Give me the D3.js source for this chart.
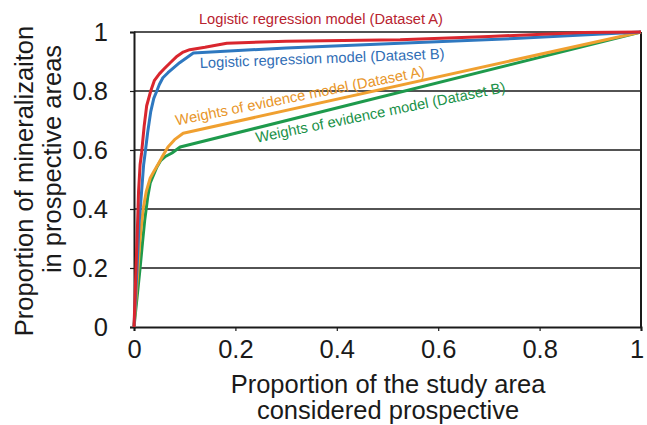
<!DOCTYPE html>
<html><head><meta charset="utf-8">
<script src="https://cdn.jsdelivr.net/npm/d3@7"></script>
<style>
html,body{margin:0;padding:0;background:#fff;}
svg text{font-family:"Liberation Sans",Arial,sans-serif;}
</style>
</head><body>
<svg id="chart" width="647" height="425"></svg>
<script>
// Data (x = proportion of study area, y = proportion of mineralization)
const lrA = [[0,0],[0.004,0.2],[0.007,0.35],[0.009,0.46],[0.012,0.55],[0.015,0.59],[0.02,0.68],[0.025,0.75],[0.033,0.80],[0.04,0.835],[0.05,0.858],[0.06,0.876],[0.071,0.895],[0.085,0.918],[0.097,0.932],[0.11,0.94],[0.14,0.948],[0.183,0.962],[0.3,0.969],[0.525,0.974],[0.7,0.985],[0.886,0.998],[1,1]];
const lrB = [[0,0],[0.006,0.2],[0.01,0.35],[0.015,0.46],[0.019,0.55],[0.022,0.59],[0.027,0.66],[0.033,0.73],[0.039,0.775],[0.045,0.80],[0.05,0.822],[0.057,0.845],[0.067,0.862],[0.09,0.896],[0.117,0.929],[0.3,0.946],[0.525,0.962],[0.75,0.978],[1,1]];
const woeA = [[0,0],[0.006,0.15],[0.012,0.3],[0.018,0.4],[0.024,0.458],[0.032,0.505],[0.04,0.53],[0.047,0.55],[0.055,0.575],[0.067,0.61],[0.08,0.635],[0.097,0.657],[1,1]];
const woeB = [[0,0],[0.006,0.1],[0.012,0.2],[0.017,0.29],[0.021,0.36],[0.024,0.4],[0.027,0.44],[0.032,0.488],[0.045,0.542],[0.053,0.565],[0.061,0.577],[0.075,0.59],[0.091,0.61],[1,1]];
const xTicks = [0,0.2,0.4,0.6,0.8,1];
const yTicks = [0,0.2,0.4,0.6,0.8,1];
const xTitle = ["Proportion of the study area","considered prospective"];
const yTitle = ["Proportion of mineralizaiton","in prospective areas"];
const seriesNames = ["Weights of evidence model (Dataset B)","Weights of evidence model (Dataset A)","Logistic regression model (Dataset B)","Logistic regression model (Dataset A)"];
const seriesColors = ["#1e9a4c","#f0a030","#2e78c0","#d9262e"];
const labelColors = ["#1a9148","#e8962a","#2f6db5","#b8232f"];

const svg = d3.select("#chart");
const x = d3.scaleLinear().domain([0,1]).range([134,641]);
const y = d3.scaleLinear().domain([0,1]).range([327,32]);

// gridlines
svg.append("g").selectAll("line").data(yTicks.filter(d=>d>0)).join("line")
  .attr("x1",x(0)).attr("x2",x(1)).attr("y1",d=>y(d)).attr("y2",d=>y(d))
  .attr("stroke","#1a1a1a").attr("stroke-width",1.6);

// axes
const xAxis = d3.axisBottom(x).tickValues(xTicks).tickFormat(d3.format("")).tickSize(4).tickPadding(9);
const gx = svg.append("g").attr("transform",`translate(0,${y(0)})`).call(xAxis);
gx.select(".domain").attr("stroke","#1a1a1a").attr("stroke-width",2);
gx.selectAll(".tick line").attr("stroke","#1a1a1a").attr("stroke-width",1.2);
gx.selectAll("text").attr("font-size",25.5).attr("fill","#1a1a1a").attr("font-family","Liberation Sans, Arial, sans-serif");
gx.selectAll(".tick").filter(d=>d===1).select("text").attr("text-anchor","end").attr("dx","0.1em");

const yAxis = d3.axisLeft(y).tickValues(yTicks).tickFormat(d3.format("")).tickSize(4).tickPadding(22);
const gy = svg.append("g").attr("transform",`translate(${x(0)},0)`).call(yAxis);
gy.select(".domain").attr("stroke","#1a1a1a").attr("stroke-width",2);
gy.selectAll(".tick line").attr("stroke","#1a1a1a").attr("stroke-width",1.2);
gy.selectAll("text").attr("font-size",25.5).attr("fill","#1a1a1a").attr("font-family","Liberation Sans, Arial, sans-serif");

// right border
svg.append("line").attr("x1",x(1)).attr("x2",x(1)).attr("y1",y(0)).attr("y2",y(1))
  .attr("stroke","#1a1a1a").attr("stroke-width",2);

// lines
const line = d3.line().x(d=>x(d[0])).y(d=>y(d[1]));
const allSeries = [woeB, woeA, lrB, lrA];
svg.append("g").selectAll("path").data(allSeries).join("path")
  .attr("d",line).attr("fill","none")
  .attr("stroke",(d,i)=>seriesColors[i]).attr("stroke-width",3).attr("stroke-linejoin","round");

// curve labels (anchored in data coordinates)
const labelAnchors = [[0.242,0.625,-11.5],[0.084,0.683,-11.3],[0.130,0.878,-2.2],[0.128,1.027,0]];
svg.append("g").selectAll("text").data(seriesNames).join("text")
  .attr("transform",(d,i)=>`translate(${x(labelAnchors[i][0])},${y(labelAnchors[i][1])}) rotate(${labelAnchors[i][2]})`)
  .attr("font-size",14.7).attr("fill",(d,i)=>labelColors[i]).text(d=>d);

// axis titles
svg.append("g").selectAll("text").data(xTitle).join("text")
  .attr("x",388).attr("y",(d,i)=>393+i*26).attr("text-anchor","middle")
  .attr("font-size",25.5).attr("fill","#1a1a1a").text(d=>d);
const yTitleX = [33,61];
const yTitleY = [181,159];
svg.append("g").selectAll("text").data(yTitle).join("text")
  .attr("transform",(d,i)=>`translate(${yTitleX[i]},${yTitleY[i]}) rotate(-90)`)
  .attr("text-anchor","middle").attr("font-size",25.5).attr("fill","#1a1a1a").text(d=>d);
</script>
</body></html>
